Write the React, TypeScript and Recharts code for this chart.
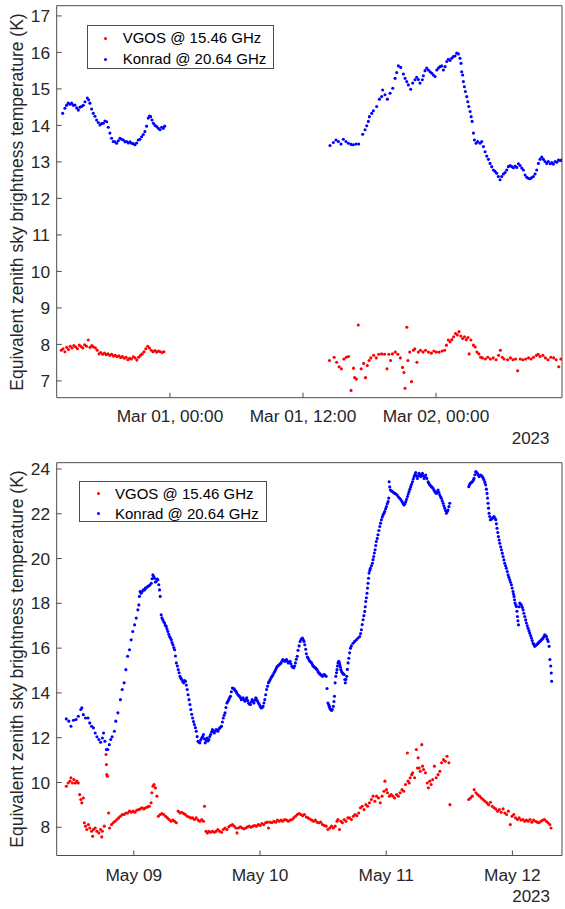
import React from 'react'
import { ScatterChart, Scatter, XAxis, YAxis } from 'recharts'

const FONT = '"Liberation Sans", Arial, Helvetica, sans-serif'
const VGOS_COLOR = '#ff0000'
const KONRAD_COLOR = '#0000ff'
const AXIS_COLOR = '#4d4d4d'
const TEXT_COLOR = '#262626'
const Y_LABEL = 'Equivalent zenith sky brightness temperature (K)'

// top panel: x in hours after Mar 01 00:00 (2023)
const marTicks = [0, 12, 24]
const marTickLabels = ['Mar 01, 00:00', 'Mar 01, 12:00', 'Mar 02, 00:00']
const marTempTicks = [7, 8, 9, 10, 11, 12, 13, 14, 15, 16, 17]

// bottom panel: x in days after May 08 00:00 (2023)
const mayTicks = [1, 2, 3, 4]
const mayTickLabels = ['May 09', 'May 10', 'May 11', 'May 12']
const mayTempTicks = [8, 10, 12, 14, 16, 18, 20, 22, 24]

const vgosMar: [number, number][] = [
  [-9.81, 7.84], [-9.65, 7.88], [-9.48, 7.8], [-9.32, 7.92], [-9.16, 7.86], [-9.0, 7.95], [-8.83, 7.9],
  [-8.67, 7.97], [-8.51, 7.93], [-8.35, 7.88], [-8.18, 7.98], [-8.02, 7.94], [-7.86, 7.9], [-7.7, 7.99],
  [-7.53, 7.95], [-7.37, 8.12], [-7.21, 7.92], [-7.05, 7.97], [-6.89, 7.93], [-6.72, 7.9], [-6.56, 7.84],
  [-6.4, 7.74], [-6.24, 7.78], [-6.07, 7.73], [-5.91, 7.76], [-5.75, 7.72], [-5.59, 7.74], [-5.42, 7.7],
  [-5.26, 7.73], [-5.1, 7.68], [-4.94, 7.7], [-4.77, 7.66], [-4.61, 7.69], [-4.45, 7.64], [-4.29, 7.67],
  [-4.12, 7.62], [-3.96, 7.65], [-3.8, 7.58], [-3.64, 7.62], [-3.48, 7.6], [-3.31, 7.66], [-3.15, 7.63],
  [-2.99, 7.57], [-2.83, 7.65], [-2.66, 7.7], [-2.5, 7.74], [-2.34, 7.8], [-2.18, 7.88], [-2.01, 7.95],
  [-1.85, 7.9], [-1.69, 7.84], [-1.53, 7.8], [-1.36, 7.83], [-1.2, 7.79], [-1.04, 7.82], [-0.88, 7.8],
  [-0.71, 7.78], [-0.55, 7.8],
  [14.39, 7.56], [14.81, 7.65], [15.04, 7.51], [15.26, 7.39], [15.46, 7.33], [15.69, 7.6], [15.91, 7.65],
  [16.11, 7.67], [16.34, 6.74], [16.56, 7.35], [16.66, 7.09], [16.82, 7.05], [16.99, 8.53], [17.25, 7.33],
  [17.47, 7.48], [17.64, 7.09], [17.8, 7.42], [17.96, 7.56], [18.12, 7.63], [18.38, 7.7], [18.61, 7.63],
  [18.84, 7.73], [19.1, 7.74], [19.36, 7.73], [19.58, 7.33], [19.75, 7.73], [19.91, 7.56], [20.07, 7.74],
  [20.33, 7.79], [20.56, 7.73], [20.79, 7.63], [20.98, 7.37], [21.11, 7.23], [21.21, 6.8], [21.37, 8.47],
  [21.47, 7.56], [21.63, 7.79], [21.79, 6.98], [21.96, 7.84], [22.09, 7.88], [22.28, 7.51], [22.41, 7.79],
  [22.6, 7.84], [22.83, 7.79], [23.06, 7.84], [23.32, 7.79], [23.58, 7.76], [23.81, 7.82], [24.03, 7.79],
  [24.29, 7.79], [24.55, 7.82], [24.78, 7.84], [24.94, 7.98], [25.11, 8.12], [25.27, 8.07], [25.43, 8.13],
  [25.59, 8.21], [25.76, 8.3], [25.92, 8.26], [26.08, 8.35], [26.24, 8.23], [26.4, 8.16], [26.57, 8.21],
  [26.73, 8.13], [26.89, 8.19], [26.99, 7.74], [27.15, 8.12], [27.38, 7.98], [27.54, 7.93], [27.7, 7.79],
  [27.87, 7.74], [28.03, 7.65], [28.19, 7.63], [28.45, 7.6], [28.68, 7.65], [28.91, 7.6], [29.17, 7.63],
  [29.43, 7.58], [29.65, 7.7], [29.81, 7.84], [29.98, 7.65], [30.14, 7.6], [30.46, 7.58], [30.72, 7.63],
  [30.95, 7.58], [31.18, 7.6], [31.37, 7.28], [31.6, 7.6], [31.83, 7.58], [32.09, 7.6], [32.35, 7.63],
  [32.58, 7.6], [32.8, 7.65], [33.06, 7.7], [33.22, 7.73], [33.39, 7.67], [33.65, 7.7], [33.87, 7.63],
  [34.1, 7.58], [34.36, 7.65], [34.62, 7.63], [34.85, 7.58], [35.08, 7.39], [35.27, 7.6],
]

const konradMar: [number, number][] = [
  [-9.68, 14.33], [-9.48, 14.47], [-9.33, 14.55], [-9.18, 14.61], [-9.02, 14.58], [-8.87, 14.61], [-8.72, 14.55],
  [-8.57, 14.56], [-8.42, 14.48], [-8.27, 14.42], [-8.12, 14.5], [-7.97, 14.52], [-7.82, 14.55], [-7.67, 14.65],
  [-7.46, 14.75], [-7.34, 14.7], [-7.22, 14.61], [-7.07, 14.45], [-6.92, 14.33], [-6.77, 14.25], [-6.62, 14.15],
  [-6.47, 14.08], [-6.32, 14.01], [-6.17, 14.05], [-6.02, 14.06], [-5.87, 14.12], [-5.71, 14.1], [-5.57, 13.95],
  [-5.42, 13.79], [-5.27, 13.65], [-5.12, 13.56], [-4.96, 13.55], [-4.81, 13.51], [-4.66, 13.58], [-4.51, 13.65],
  [-4.36, 13.62], [-4.21, 13.6], [-4.06, 13.55], [-3.91, 13.56], [-3.76, 13.52], [-3.61, 13.55], [-3.46, 13.51],
  [-3.31, 13.5], [-3.16, 13.47], [-3.01, 13.52], [-2.86, 13.6], [-2.71, 13.62], [-2.56, 13.69], [-2.41, 13.75],
  [-2.26, 13.83], [-2.11, 13.98], [-1.96, 14.2], [-1.85, 14.26], [-1.74, 14.24], [-1.62, 14.15], [-1.5, 14.06],
  [-1.35, 14.0], [-1.2, 13.97], [-1.05, 13.92], [-0.9, 13.88], [-0.75, 13.95], [-0.6, 13.92], [-0.48, 13.98],
  [14.44, 13.45], [14.74, 13.53], [14.98, 13.6], [15.19, 13.56], [15.43, 13.49], [15.64, 13.62], [15.88, 13.56],
  [16.1, 13.51], [16.34, 13.48], [16.55, 13.47], [16.79, 13.49], [17.03, 13.49], [17.39, 13.76], [17.6, 13.88],
  [17.75, 13.99], [17.9, 14.11], [17.99, 14.24], [18.2, 14.33], [18.35, 14.4], [18.65, 14.52], [18.89, 14.72],
  [19.1, 14.79], [19.19, 14.97], [19.4, 14.84], [19.61, 14.72], [19.86, 14.88], [20.1, 15.02], [20.31, 15.29],
  [20.46, 15.45], [20.61, 15.63], [20.82, 15.59], [21.06, 15.41], [21.21, 15.29], [21.36, 15.2], [21.51, 15.11],
  [21.72, 14.99], [21.9, 15.16], [22.11, 15.25], [22.26, 15.32], [22.41, 15.26], [22.56, 15.16], [22.77, 15.25],
  [22.86, 15.36], [23.01, 15.5], [23.16, 15.57], [23.31, 15.52], [23.47, 15.47], [23.62, 15.43], [23.77, 15.38],
  [23.92, 15.34], [24.07, 15.52], [24.22, 15.57], [24.37, 15.61], [24.52, 15.63], [24.67, 15.52], [24.82, 15.61],
  [24.97, 15.75], [25.12, 15.81], [25.27, 15.78], [25.42, 15.84], [25.57, 15.89], [25.72, 15.9], [25.87, 15.98],
  [26.02, 15.96], [26.17, 15.84], [26.26, 15.7], [26.32, 15.47], [26.41, 15.38], [26.47, 15.2], [26.56, 15.06],
  [26.65, 14.93], [26.78, 14.79], [26.87, 14.65], [26.96, 14.52], [27.08, 14.38], [27.17, 14.24], [27.26, 14.11],
  [27.38, 13.79], [27.47, 13.6], [27.62, 13.51], [27.77, 13.56], [27.98, 13.51], [28.13, 13.56], [28.28, 13.42],
  [28.43, 13.28], [28.58, 13.16], [28.73, 13.07], [28.88, 12.96], [29.03, 12.87], [29.18, 12.78], [29.33, 12.74],
  [29.48, 12.69], [29.63, 12.6], [29.78, 12.51], [29.93, 12.6], [30.08, 12.67], [30.23, 12.71], [30.38, 12.78],
  [30.53, 12.87], [30.69, 12.9], [30.84, 12.87], [30.99, 12.84], [31.14, 12.89], [31.29, 12.85], [31.44, 12.95],
  [31.59, 12.9], [31.74, 12.83], [31.89, 12.78], [32.04, 12.64], [32.19, 12.58], [32.34, 12.55], [32.49, 12.54],
  [32.64, 12.57], [32.79, 12.6], [32.94, 12.67], [33.09, 12.78], [33.24, 12.96], [33.39, 13.07], [33.54, 13.13],
  [33.69, 13.07], [33.84, 13.01], [33.99, 12.96], [34.14, 13.01], [34.3, 12.95], [34.45, 12.98], [34.6, 12.94],
  [34.75, 13.01], [34.9, 12.99], [35.05, 13.05], [35.2, 13.04], [35.33, 13.05],
]

const vgosMay: [number, number][] = [
  [0.465, 9.83], [0.48, 9.98], [0.494, 10.06], [0.502, 10.21], [0.514, 9.98], [0.525, 10.13], [0.537, 9.98],
  [0.548, 10.06], [0.56, 9.98], [0.571, 9.46], [0.58, 9.24], [0.588, 9.09], [0.6, 9.31], [0.608, 8.2],
  [0.617, 8.05], [0.628, 7.9], [0.64, 8.12], [0.651, 7.97], [0.665, 7.82], [0.674, 7.6], [0.68, 7.9],
  [0.694, 7.97], [0.708, 7.82], [0.723, 7.75], [0.737, 7.9], [0.746, 7.57], [0.751, 7.82], [0.766, 8.05],
  [0.78, 11.25], [0.783, 10.8], [0.786, 10.35], [0.791, 10.28], [0.8, 8.64], [0.808, 7.97], [0.823, 8.12],
  [0.837, 8.2], [0.851, 8.27], [0.866, 8.35], [0.88, 8.42], [0.894, 8.49], [0.908, 8.57], [0.923, 8.57],
  [0.937, 8.64], [0.951, 8.64], [0.966, 8.72], [0.98, 8.67], [0.994, 8.72], [1.009, 8.67], [1.023, 8.76],
  [1.037, 8.79], [1.051, 8.82], [1.066, 8.87], [1.08, 8.82], [1.094, 8.87], [1.109, 8.91], [1.123, 8.94],
  [1.137, 9.09], [1.143, 9.54], [1.152, 9.83], [1.16, 9.91], [1.172, 9.76], [1.183, 9.39], [1.194, 8.49],
  [1.209, 8.57], [1.223, 8.61], [1.237, 8.57], [1.252, 8.49], [1.266, 8.42], [1.28, 8.35], [1.295, 8.27],
  [1.309, 8.32], [1.323, 8.27], [1.337, 8.2], [1.352, 8.72], [1.366, 8.64], [1.38, 8.67], [1.395, 8.61],
  [1.409, 8.57], [1.423, 8.49], [1.438, 8.46], [1.452, 8.42], [1.466, 8.42], [1.48, 8.35], [1.495, 8.42],
  [1.509, 8.32], [1.523, 8.27], [1.538, 8.35], [1.552, 8.27], [1.56, 8.94], [1.572, 7.82], [1.583, 7.75],
  [1.595, 7.82], [1.609, 7.78], [1.623, 7.82], [1.638, 7.78], [1.652, 7.82], [1.666, 7.9], [1.681, 7.82],
  [1.695, 7.78], [1.709, 7.9], [1.723, 7.97], [1.738, 7.9], [1.752, 8.02], [1.766, 8.08], [1.781, 8.12],
  [1.795, 8.05], [1.809, 7.97], [1.818, 7.75], [1.829, 7.97], [1.844, 8.02], [1.858, 7.97], [1.872, 7.93],
  [1.887, 7.97], [1.901, 8.02], [1.915, 8.05], [1.929, 8.0], [1.944, 8.05], [1.958, 8.08], [1.972, 8.05],
  [1.987, 8.12], [2.001, 8.08], [2.015, 8.17], [2.029, 8.12], [2.044, 8.2], [2.058, 8.23], [2.067, 7.97],
  [2.081, 8.23], [2.095, 8.2], [2.11, 8.27], [2.124, 8.23], [2.138, 8.32], [2.152, 8.27], [2.167, 8.32],
  [2.181, 8.27], [2.195, 8.35], [2.21, 8.32], [2.224, 8.27], [2.238, 8.32], [2.253, 8.35], [2.267, 8.42],
  [2.281, 8.49], [2.295, 8.57], [2.31, 8.61], [2.324, 8.57], [2.338, 8.52], [2.352, 8.57], [2.367, 8.46],
  [2.381, 8.42], [2.395, 8.37], [2.409, 8.32], [2.424, 8.27], [2.438, 8.32], [2.452, 8.23], [2.467, 8.2],
  [2.481, 8.23], [2.495, 8.12], [2.51, 8.08], [2.524, 8.05], [2.538, 7.9], [2.553, 7.97], [2.567, 8.05],
  [2.581, 7.97], [2.595, 8.05], [2.61, 8.27], [2.618, 8.35], [2.63, 7.9], [2.641, 8.27], [2.653, 8.2],
  [2.667, 8.35], [2.681, 8.27], [2.696, 8.42], [2.71, 8.42], [2.724, 8.35], [2.739, 8.49], [2.753, 8.57],
  [2.767, 8.52], [2.782, 8.64], [2.796, 8.87], [2.81, 8.94], [2.824, 8.79], [2.839, 9.01], [2.853, 8.94],
  [2.867, 9.09], [2.882, 9.24], [2.896, 9.39], [2.91, 9.16], [2.924, 9.39], [2.939, 9.31], [2.953, 9.09],
  [2.967, 9.39], [2.982, 9.61], [2.99, 10.06], [3.002, 9.68], [3.01, 9.54], [3.025, 9.39], [3.039, 9.46],
  [3.053, 9.39], [3.067, 9.31], [3.082, 9.46], [3.096, 9.39], [3.11, 9.54], [3.125, 9.68], [3.139, 9.61],
  [3.153, 9.91], [3.168, 11.32], [3.173, 10.06], [3.182, 9.98], [3.19, 10.21], [3.202, 10.35], [3.21, 10.43],
  [3.225, 10.21], [3.239, 11.47], [3.248, 10.65], [3.253, 11.1], [3.262, 10.65], [3.27, 10.5], [3.282, 11.69],
  [3.288, 10.73], [3.296, 10.58], [3.311, 10.43], [3.325, 9.98], [3.334, 9.76], [3.345, 10.06], [3.356, 9.91],
  [3.368, 10.13], [3.382, 10.73], [3.396, 10.21], [3.411, 10.35], [3.425, 10.5], [3.439, 10.88], [3.454, 11.02],
  [3.468, 10.95], [3.482, 11.17], [3.497, 10.88], [3.505, 9.01],
  [3.654, 9.24], [3.668, 9.31], [3.682, 9.39], [3.697, 9.68], [3.711, 9.54], [3.725, 9.46], [3.74, 9.39],
  [3.754, 9.31], [3.768, 9.24], [3.783, 9.16], [3.797, 9.09], [3.811, 9.01], [3.826, 9.12], [3.84, 8.94],
  [3.854, 8.87], [3.868, 8.82], [3.883, 8.72], [3.897, 8.79], [3.911, 8.67], [3.926, 8.82], [3.94, 8.64],
  [3.954, 8.57], [3.968, 8.72], [3.983, 8.12], [3.997, 8.49], [4.011, 8.57], [4.025, 8.42], [4.04, 8.35],
  [4.054, 8.42], [4.068, 8.32], [4.083, 8.35], [4.097, 8.27], [4.111, 8.32], [4.125, 8.27], [4.14, 8.35],
  [4.154, 8.23], [4.168, 8.32], [4.183, 8.27], [4.197, 8.23], [4.211, 8.2], [4.226, 8.27], [4.24, 8.32],
  [4.254, 8.35], [4.269, 8.27], [4.283, 8.2], [4.297, 8.12], [4.306, 7.97],
]

const konradMay: [number, number][] = [
  [0.465, 12.84], [0.485, 12.74], [0.502, 12.51], [0.522, 12.78], [0.542, 12.81], [0.56, 12.96], [0.58, 13.26],
  [0.588, 13.33], [0.6, 13.03], [0.617, 12.88], [0.637, 12.88], [0.651, 12.66], [0.665, 12.51], [0.68, 12.44],
  [0.694, 12.21], [0.708, 12.04], [0.723, 11.92], [0.737, 11.8], [0.751, 11.99], [0.76, 12.21], [0.771, 11.84],
  [0.783, 11.47], [0.794, 11.47], [0.806, 11.69], [0.817, 11.92], [0.828, 12.04], [0.846, 12.29], [0.857, 12.74],
  [0.874, 13.11], [0.894, 13.7], [0.908, 14.15], [0.923, 14.45], [0.937, 15.04], [0.951, 15.64], [0.966, 15.93],
  [0.979, 16.37], [0.992, 16.74], [1.006, 17.04], [1.019, 17.34], [1.032, 17.71], [1.04, 17.93], [1.045, 18.31],
  [1.05, 18.53], [1.058, 18.45], [1.066, 18.53], [1.075, 18.6], [1.085, 18.6], [1.092, 18.68], [1.098, 18.68],
  [1.11, 18.75], [1.119, 18.78], [1.128, 18.82], [1.138, 18.9], [1.145, 19.1], [1.151, 19.27], [1.158, 19.2],
  [1.164, 19.12], [1.17, 18.95], [1.177, 18.97], [1.185, 19.08], [1.191, 19.05], [1.198, 18.83], [1.204, 18.6],
  [1.209, 18.31], [1.217, 17.49], [1.223, 17.35], [1.23, 17.27], [1.237, 17.18], [1.244, 17.12], [1.25, 17.02],
  [1.257, 16.97], [1.263, 16.85], [1.27, 16.74], [1.277, 16.62], [1.283, 16.52], [1.29, 16.45], [1.297, 16.37],
  [1.303, 16.25], [1.31, 16.15], [1.317, 16.03], [1.323, 15.93], [1.33, 15.65], [1.337, 15.34], [1.345, 15.2],
  [1.352, 15.04], [1.359, 14.9], [1.366, 14.74], [1.373, 14.66], [1.38, 14.6], [1.388, 14.5], [1.395, 14.45],
  [1.402, 14.55], [1.409, 14.52], [1.416, 14.35], [1.423, 14.15], [1.43, 13.92], [1.438, 13.7], [1.445, 13.48],
  [1.452, 13.26], [1.459, 13.05], [1.466, 12.88], [1.473, 12.72], [1.48, 12.59], [1.488, 12.45], [1.495, 12.29],
  [1.502, 12.05], [1.509, 11.84], [1.516, 11.8], [1.523, 11.77], [1.53, 11.9], [1.538, 11.99], [1.545, 12.05],
  [1.552, 12.14], [1.559, 11.95], [1.566, 11.77], [1.573, 11.88], [1.58, 11.99], [1.588, 11.85], [1.595, 11.92],
  [1.602, 12.05], [1.609, 12.14], [1.616, 12.25], [1.623, 12.36], [1.63, 12.28], [1.638, 12.21], [1.645, 12.3],
  [1.652, 12.36], [1.659, 12.32], [1.666, 12.29], [1.673, 12.38], [1.681, 12.44], [1.688, 12.48], [1.695, 12.51],
  [1.702, 12.7], [1.709, 12.88], [1.716, 13.0], [1.723, 13.11], [1.73, 13.35], [1.738, 13.55], [1.745, 13.62],
  [1.752, 13.7], [1.759, 13.78], [1.766, 13.85], [1.773, 14.05], [1.781, 14.22], [1.788, 14.2], [1.795, 14.18],
  [1.802, 14.12], [1.809, 14.07], [1.816, 14.0], [1.824, 13.93], [1.831, 13.88], [1.838, 13.85], [1.845, 13.78],
  [1.852, 13.7], [1.859, 13.74], [1.866, 13.78], [1.873, 13.7], [1.881, 13.63], [1.888, 13.7], [1.895, 13.78],
  [1.902, 13.66], [1.909, 13.55], [1.916, 13.5], [1.924, 13.48], [1.931, 13.6], [1.938, 13.7], [1.945, 13.62],
  [1.952, 13.55], [1.959, 13.68], [1.967, 13.78], [1.974, 13.7], [1.981, 13.63], [1.988, 13.55], [1.995, 13.48],
  [2.002, 13.4], [2.009, 13.33], [2.017, 13.35], [2.024, 13.4], [2.031, 13.55], [2.038, 13.7], [2.045, 13.92],
  [2.052, 14.15], [2.06, 14.3], [2.067, 14.45], [2.074, 14.52], [2.081, 14.6], [2.088, 14.68], [2.095, 14.74],
  [2.102, 14.8], [2.11, 14.89], [2.117, 14.96], [2.124, 15.04], [2.131, 15.12], [2.138, 15.19], [2.145, 15.22],
  [2.152, 15.26], [2.16, 15.3], [2.167, 15.34], [2.174, 15.42], [2.181, 15.49], [2.188, 15.45], [2.195, 15.41],
  [2.202, 15.45], [2.21, 15.49], [2.217, 15.4], [2.224, 15.34], [2.231, 15.38], [2.238, 15.41], [2.245, 15.3],
  [2.253, 15.19], [2.26, 15.15], [2.267, 15.12], [2.274, 15.2], [2.281, 15.34], [2.288, 15.5], [2.295, 15.64],
  [2.301, 15.9], [2.31, 16.1], [2.318, 16.3], [2.327, 16.4], [2.336, 16.45], [2.342, 16.38], [2.349, 16.3],
  [2.355, 16.15], [2.362, 15.95], [2.367, 15.75], [2.375, 15.6], [2.381, 15.56], [2.388, 15.48], [2.395, 15.41],
  [2.402, 15.38], [2.409, 15.34], [2.416, 15.25], [2.424, 15.19], [2.431, 15.15], [2.438, 15.12], [2.445, 15.08],
  [2.452, 15.04], [2.46, 14.95], [2.467, 14.89], [2.474, 14.85], [2.481, 14.82], [2.488, 14.78], [2.495, 14.74],
  [2.502, 14.8], [2.51, 14.82], [2.517, 14.78], [2.524, 14.74], [2.531, 14.2], [2.538, 13.55], [2.544, 13.48],
  [2.549, 13.4], [2.553, 13.33], [2.557, 13.28], [2.561, 13.26], [2.567, 13.22], [2.573, 13.26], [2.581, 13.4],
  [2.586, 13.62], [2.59, 13.85], [2.595, 14.45], [2.601, 14.74], [2.606, 14.9], [2.61, 15.04], [2.614, 15.2],
  [2.618, 15.34], [2.624, 15.41], [2.629, 15.35], [2.633, 15.26], [2.637, 15.15], [2.641, 15.04], [2.647, 14.95],
  [2.653, 14.89], [2.66, 14.85], [2.667, 14.82], [2.672, 14.6], [2.676, 14.45], [2.681, 14.6], [2.687, 14.74],
  [2.692, 15.05], [2.698, 15.34], [2.704, 15.55], [2.71, 15.79], [2.717, 16.0], [2.724, 16.1], [2.737, 16.22],
  [2.75, 16.3], [2.764, 16.37], [2.777, 16.45], [2.79, 16.52], [2.797, 16.65], [2.803, 16.82], [2.81, 17.05],
  [2.817, 17.27], [2.823, 17.45], [2.83, 17.64], [2.834, 17.85], [2.838, 18.08], [2.843, 18.25], [2.848, 18.45],
  [2.852, 18.68], [2.856, 18.9], [2.86, 19.12], [2.864, 19.35], [2.87, 19.47], [2.875, 19.57], [2.883, 19.68],
  [2.891, 19.79], [2.896, 19.95], [2.901, 20.09], [2.906, 20.25], [2.912, 20.39], [2.917, 20.58], [2.922, 20.76],
  [2.929, 20.9], [2.935, 21.06], [2.942, 21.25], [2.949, 21.43], [2.955, 21.58], [2.962, 21.73], [2.969, 21.85],
  [2.975, 21.95], [2.982, 22.02], [2.988, 22.1], [2.995, 22.22], [3.002, 22.32], [3.008, 22.45], [3.015, 22.54],
  [3.02, 22.7], [3.023, 23.43], [3.028, 23.2], [3.033, 23.06], [3.041, 23.02], [3.049, 22.99], [3.058, 22.95],
  [3.068, 22.91], [3.077, 22.88], [3.086, 22.84], [3.096, 22.76], [3.107, 22.69], [3.116, 22.62], [3.126, 22.54],
  [3.134, 22.46], [3.141, 22.39], [3.148, 22.45], [3.155, 22.54], [3.162, 22.65], [3.168, 22.77], [3.175, 22.88],
  [3.181, 22.99], [3.188, 23.1], [3.194, 23.21], [3.201, 23.32], [3.208, 23.43], [3.214, 23.55], [3.221, 23.66],
  [3.228, 23.75], [3.234, 23.84], [3.24, 23.7], [3.247, 23.58], [3.254, 23.7], [3.26, 23.81], [3.267, 23.74],
  [3.274, 23.66], [3.28, 23.74], [3.287, 23.81], [3.294, 23.7], [3.3, 23.58], [3.307, 23.66], [3.313, 23.73],
  [3.322, 23.58], [3.332, 23.43], [3.338, 23.36], [3.345, 23.29], [3.352, 23.25], [3.358, 23.21], [3.365, 23.18],
  [3.371, 23.14], [3.378, 23.06], [3.385, 22.99], [3.391, 22.95], [3.398, 22.91], [3.404, 22.98], [3.411, 23.06],
  [3.418, 22.95], [3.424, 22.84], [3.431, 22.76], [3.437, 22.69], [3.444, 22.58], [3.451, 22.47], [3.457, 22.36],
  [3.464, 22.25], [3.47, 22.14], [3.477, 22.02], [3.484, 22.1], [3.49, 22.17], [3.497, 22.32], [3.504, 22.47],
  [3.654, 23.21], [3.661, 23.3], [3.667, 23.36], [3.675, 23.4], [3.683, 23.43], [3.69, 23.5], [3.696, 23.58],
  [3.703, 23.74], [3.709, 23.88], [3.716, 23.85], [3.722, 23.81], [3.729, 23.74], [3.736, 23.66], [3.742, 23.7],
  [3.749, 23.73], [3.755, 23.7], [3.762, 23.66], [3.769, 23.58], [3.775, 23.51], [3.782, 23.4], [3.788, 23.29],
  [3.794, 23.1], [3.799, 22.91], [3.803, 22.7], [3.807, 22.47], [3.811, 22.25], [3.815, 22.02], [3.82, 21.88],
  [3.825, 21.73], [3.833, 21.76], [3.841, 21.8], [3.848, 21.84], [3.855, 21.87], [3.862, 21.8], [3.868, 21.73],
  [3.873, 21.55], [3.878, 21.35], [3.884, 21.16], [3.889, 20.98], [3.895, 20.83], [3.9, 20.68], [3.907, 20.53],
  [3.913, 20.39], [3.92, 20.24], [3.926, 20.09], [3.933, 19.94], [3.939, 19.79], [3.946, 19.68], [3.952, 19.57],
  [3.959, 19.42], [3.966, 19.27], [3.972, 19.16], [3.979, 19.05], [3.985, 18.94], [3.992, 18.83], [3.998, 18.68],
  [4.005, 18.53], [4.009, 18.42], [4.013, 18.31], [4.017, 18.16], [4.021, 18.01], [4.027, 17.93], [4.032, 17.86],
  [4.036, 17.65], [4.04, 17.41], [4.044, 17.22], [4.048, 17.04], [4.053, 17.85], [4.058, 18.01], [4.064, 17.97],
  [4.071, 17.93], [4.078, 17.82], [4.085, 17.71], [4.091, 17.56], [4.098, 17.41], [4.105, 17.26], [4.111, 17.12],
  [4.118, 17.0], [4.124, 16.89], [4.131, 16.78], [4.137, 16.67], [4.144, 16.56], [4.151, 16.45], [4.157, 16.34],
  [4.164, 16.22], [4.171, 16.15], [4.177, 16.08], [4.184, 16.12], [4.19, 16.15], [4.197, 16.18], [4.204, 16.22],
  [4.21, 16.26], [4.217, 16.3], [4.224, 16.33], [4.23, 16.37], [4.237, 16.41], [4.243, 16.45], [4.25, 16.52],
  [4.256, 16.6], [4.263, 16.56], [4.27, 16.52], [4.276, 16.4], [4.283, 16.3], [4.291, 16.08], [4.297, 15.49],
  [4.304, 15.2], [4.308, 14.89], [4.311, 14.52],
]

const toPoints = (pairs: [number, number][]) => pairs.map(([x, y]) => ({ x, y }))

function makeDot(color: string) {
  return (p: { cx?: number; cy?: number }) => <circle cx={p.cx} cy={p.cy} r={1.55} fill={color} />
}

interface PanelProps {
  top: number
  height: number
  marginTop: number
  xAxisHeight: number
  xDomain: [number, number]
  xTicks: number[]
  xLabels: string[]
  xTickMargin: number
  yDomain: [number, number]
  yTicks: number[]
  vgos: [number, number][]
  konrad: [number, number][]
}

function Panel(props: PanelProps) {
  const { top, height, marginTop, xAxisHeight, xDomain, xTicks, xLabels, xTickMargin, yDomain, yTicks } = props
  const fmt = (v: number) => xLabels[xTicks.indexOf(v)] ?? ''
  const tickStyle = { fill: TEXT_COLOR, fontSize: 17.3 }
  return (
    <div style={{ position: 'absolute', left: 0, top }}>
      <ScatterChart width={565} height={height} margin={{ top: marginTop, right: 0, bottom: 0, left: 0 }}>
        <XAxis
          xAxisId="b" type="number" dataKey="x" domain={xDomain} ticks={xTicks} interval={0}
          allowDataOverflow tickFormatter={fmt} height={xAxisHeight}
          tickSize={-5} tickMargin={xTickMargin} tick={tickStyle}
          axisLine={{ stroke: AXIS_COLOR }} tickLine={{ stroke: AXIS_COLOR }}
        />
        <XAxis
          xAxisId="t" orientation="top" type="number" domain={xDomain} ticks={xTicks} interval={0}
          allowDataOverflow height={1} tickSize={-5} tick={false}
          axisLine={{ stroke: AXIS_COLOR }} tickLine={{ stroke: AXIS_COLOR }}
        />
        <YAxis
          yAxisId="l" type="number" dataKey="y" domain={yDomain} ticks={yTicks} interval={0}
          allowDataOverflow width={56.7} tickSize={-5} tickMargin={11.7} tick={tickStyle}
          axisLine={{ stroke: AXIS_COLOR }} tickLine={{ stroke: AXIS_COLOR }}
        />
        <YAxis
          yAxisId="r" orientation="right" type="number" domain={yDomain} ticks={yTicks} interval={0}
          allowDataOverflow width={3} tickSize={-5} tick={false}
          axisLine={{ stroke: AXIS_COLOR }} tickLine={{ stroke: AXIS_COLOR }}
        />
        <Scatter
          xAxisId="b" yAxisId="l" data={toPoints(props.vgos)}
          shape={makeDot(VGOS_COLOR)} isAnimationActive={false}
        />
        <Scatter
          xAxisId="b" yAxisId="l" data={toPoints(props.konrad)}
          shape={makeDot(KONRAD_COLOR)} isAnimationActive={false}
        />
      </ScatterChart>
    </div>
  )
}

function LegendBox({ left, top, width, height, rowGap }: { left: number; top: number; width: number; height: number; rowGap: number }) {
  const rows = [
    { color: VGOS_COLOR, label: 'VGOS @ 15.46 GHz' },
    { color: KONRAD_COLOR, label: 'Konrad @ 20.64 GHz' },
  ]
  return (
    <div style={{
      position: 'absolute', left, top, width, height, boxSizing: 'border-box',
      border: `1px solid ${AXIS_COLOR}`, background: '#fff', fontSize: 15, color: '#000',
    }}>
      {rows.map((r, i) => (
        <div key={r.label} style={{ position: 'absolute', left: 0, top: 12 + i * rowGap, height: 0 }}>
          <span style={{
            position: 'absolute', left: 16.5, top: -1.5, width: 3, height: 3,
            borderRadius: '50%', background: r.color,
          }} />
          <span style={{ position: 'absolute', left: 35, top: -9, whiteSpace: 'nowrap', lineHeight: '18px' }}>
            {r.label}
          </span>
        </div>
      ))}
    </div>
  )
}

function YLabel({ centerY }: { centerY: number }) {
  return (
    <div style={{
      position: 'absolute', left: 17, top: centerY, whiteSpace: 'nowrap', fontSize: 17.5,
      color: TEXT_COLOR, transform: 'translate(-50%, -50%) rotate(-90deg)', lineHeight: '20px',
    }}>
      {Y_LABEL}
    </div>
  )
}

function YearLabel({ right, centerY }: { right: number; centerY: number }) {
  return (
    <div style={{
      position: 'absolute', left: right, top: centerY, fontSize: 17, color: TEXT_COLOR,
      transform: 'translate(-100%, -50%)', lineHeight: '20px',
    }}>
      2023
    </div>
  )
}

export default function App() {
  return (
    <div style={{ position: 'absolute', left: 0, top: 0, width: 565, height: 909, background: '#fff', fontFamily: FONT }}>
      <Panel
        top={0} height={450} marginTop={4.7} xAxisHeight={52.3}
        xDomain={[-10.22, 35.37]} xTicks={marTicks} xLabels={marTickLabels} xTickMargin={16.6}
        yDomain={[6.54, 17.28]} yTicks={marTempTicks}
        vgos={vgosMar} konrad={konradMar}
      />
      <Panel
        top={450} height={459} marginTop={11.7} xAxisHeight={53.5}
        xDomain={[0.389, 4.393]} xTicks={mayTicks} xLabels={mayTickLabels} xTickMargin={17.8}
        yDomain={[6.74, 24.28]} yTicks={mayTempTicks}
        vgos={vgosMay} konrad={konradMay}
      />
      <LegendBox left={86.7} top={25} width={187} height={43.5} rowGap={21} />
      <LegendBox left={79} top={480.7} width={188} height={41.6} rowGap={20} />
      <YLabel centerY={201.7} />
      <YLabel centerY={659} />
      <YearLabel right={549.5} centerY={439} />
      <YearLabel right={550} centerY={896.5} />
    </div>
  )
}
